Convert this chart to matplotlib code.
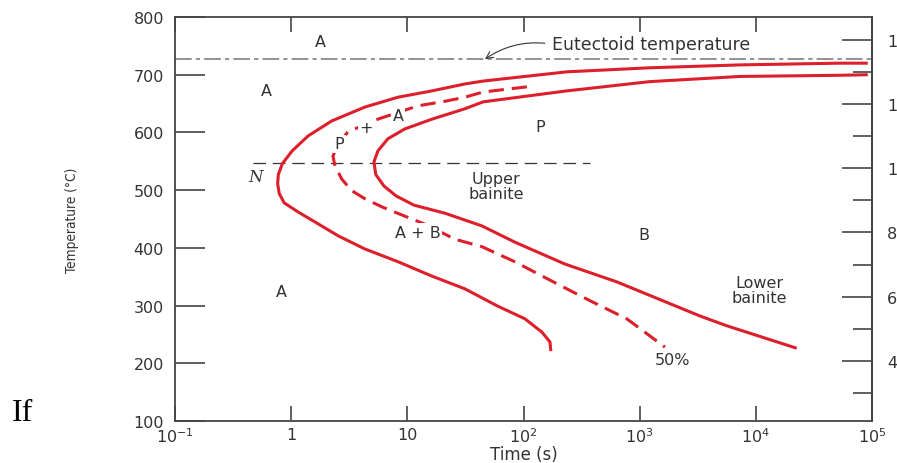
"""
Isothermal transformation (TTT) diagram for a eutectoid steel, redrawn with matplotlib.
"""

import matplotlib
matplotlib.use("Agg")
import matplotlib.pyplot as plt
from matplotlib.ticker import FixedLocator, FixedFormatter, NullLocator

# --- values ---
# transformation start curve (top right -> nose -> bottom)
start_time = [92000, 52000, 7300, 1220, 236, 45, 31.3, 16.3, 8.3, 4.32, 2.24,
              1.40, 1.02, 0.84, 0.775, 0.765, 0.79, 0.87, 1.15, 1.60, 2.53, 4.32,
              8.3, 16.3, 31.3, 60, 103, 144, 169, 172]
start_temp = [720, 720, 717, 712, 705, 689, 684, 672, 661, 644, 620,
              594, 568, 546, 527, 511, 494, 478, 462, 445, 421, 398,
              376, 351, 329, 299, 277, 254, 237, 221]

# transformation finish curve
finish_time = [92000, 52000, 7300, 1220, 236, 45, 31.3, 16.3, 9.5, 6.8, 5.58,
               5.16, 5.35, 6.3, 8.0, 11.4, 21.1, 43.9, 84, 227, 637, 3300,
               5620, 22500]
finish_temp = [700, 699, 697, 688, 672, 653, 641, 623, 606, 589, 568,
               549, 527, 507, 490, 474, 460, 438, 410, 372, 341, 282,
               265, 226]

# 50% completion curve (dashed)
half_time = [107, 44.8, 31.3, 21.1, 12.3, 5.58, 3.08, 2.53, 2.29, 2.38, 2.73,
             3.33, 4.32, 6.04, 9.5, 14.2, 25.7, 43.9, 84, 162, 288, 395,
             776, 1650]
half_temp = [679, 670, 661, 654, 646, 623, 601, 580, 559, 542, 519,
             499, 485, 471, 455, 441, 415, 402, 376, 346, 320, 306,
             277, 228]

eutectoid_temp = 727
bainite_split_temp = 547
bainite_split_time = [0.47, 370]

time_ticks = [0.1, 1, 10, 100, 1e3, 1e4, 1e5]
time_labels = [r"$\mathregular{10^{-1}}$", "1", "10", r"$\mathregular{10^{2}}$",
               r"$\mathregular{10^{3}}$", r"$\mathregular{10^{4}}$",
               r"$\mathregular{10^{5}}$"]
temp_ticks = [100, 200, 300, 400, 500, 600, 700, 800]
fahr_major = [400, 600, 800, 1000, 1200, 1400]
fahr_minor = [300, 500, 700, 900, 1100, 1300]

# (text, time, temperature)
region_labels = [
    ("A", 1.8, 757),
    ("A", 0.61, 672),
    ("A", 0.83, 325),
    ("P", 138, 611),
    ("B", 1090, 424),
    ("Upper\nbainite", 58, 507),
    ("Lower\nbainite", 10800, 327),
    ("50%", 1930, 207),
]
# labels sitting on the dashed curve (they break it)
curve_labels = [
    ("P", 2.6, 580),
    ("+", 4.4, 609),
    ("A", 8.3, 630),
    ("A + B", 12.3, 427),
]

RED = "#dd1f2c"
INK = "#333333"
FRAME = "#444444"

plt.rcParams["font.family"] = ["DejaVu Sans"]

fig = plt.figure(figsize=(8.97, 4.64), dpi=100)
ax = fig.add_axes([175 / 897, 42 / 464, 697 / 897, 404 / 464])

ax.set_xscale("log")
ax.set_xlim(0.1, 1e5)
ax.set_ylim(100, 800)

# reference lines
ax.axhline(eutectoid_temp, color="#7f7f7f", lw=1.2, dashes=(10, 2.5, 2.5, 2.5), zorder=1)
ax.plot(bainite_split_time, [bainite_split_temp] * 2, color=INK, lw=0.9,
        dashes=(10, 5.5), zorder=1)

# curves
ax.plot(half_time, half_temp, color=RED, lw=2.2, dashes=(5, 2.6), zorder=2)
ax.plot(start_time, start_temp, color=RED, lw=2.2, solid_capstyle="butt",
        solid_joinstyle="round", zorder=4)
ax.plot(finish_time, finish_temp, color=RED, lw=2.2, solid_capstyle="butt",
        solid_joinstyle="round", zorder=4)

for txt, t, temp in region_labels:
    ax.text(t, temp, txt, ha="center", va="center", fontsize=11.5, color=INK,
            linespacing=0.95, zorder=5)
for txt, t, temp in curve_labels:
    ax.text(t, temp, txt, ha="center", va="center", fontsize=11.5, color=INK,
            zorder=3, bbox=dict(boxstyle="square,pad=0.1", fc="white", ec="none"))

ax.text(0.49, 524, "N", ha="center", va="center", fontsize=12, color=INK,
        family="DejaVu Serif", style="italic", zorder=5)

ax.annotate("Eutectoid temperature", xy=(46.6, 727), xytext=(175, 753),
            ha="left", va="center", fontsize=12.5, color=INK, zorder=5,
            arrowprops=dict(arrowstyle="->", color=INK, lw=0.8, relpos=(0, 0.5),
                            connectionstyle="arc3,rad=0.2", shrinkA=3, shrinkB=0))

# axes styling
for side in ["left", "right", "top", "bottom"]:
    ax.spines[side].set_color(FRAME)
    ax.spines[side].set_linewidth(1.3)

ax.xaxis.set_major_locator(FixedLocator(time_ticks))
ax.xaxis.set_major_formatter(FixedFormatter(time_labels))
ax.xaxis.set_minor_locator(NullLocator())
ax.set_yticks(temp_ticks)
ax.tick_params(axis="x", which="major", direction="in", top=True, length=11,
               width=1.2, color=FRAME, pad=4, labelsize=11.5, labelcolor=INK)
ax.tick_params(axis="y", which="major", direction="in", length=21.5, width=1.2,
               color=FRAME, pad=8, labelsize=11.5, labelcolor=INK)

sec = ax.secondary_yaxis("right", functions=(lambda c: c * 9 / 5 + 32,
                                             lambda f: (f - 32) * 5 / 9))
sec.yaxis.set_major_locator(FixedLocator(fahr_major))
sec.yaxis.set_minor_locator(FixedLocator(fahr_minor))
sec.tick_params(which="major", direction="in", length=21.5, width=1.2, color=FRAME,
                pad=11, labelsize=11.5, labelcolor=INK)
sec.tick_params(which="minor", direction="in", length=13.5, width=1.2, color=FRAME)
sec.spines["right"].set_color(FRAME)
sec.spines["right"].set_linewidth(1.3)

ax.set_xlabel("Time (s)", fontsize=12, color=INK, va="center")
ax.xaxis.set_label_coords(0.5, -0.082)
ax.set_ylabel("Temperature (\u00b0C)", color=INK, va="center", family="DejaVu Sans",
              fontstretch="condensed", fontsize=9.8)
ax.yaxis.set_label_coords(-0.148, 0.5)

fig.text(12 / 897, 43 / 464, "If", family="Liberation Serif", fontsize=23,
         ha="left", va="baseline", color="black")

fig.savefig("out.png", dpi=100, facecolor="white")
